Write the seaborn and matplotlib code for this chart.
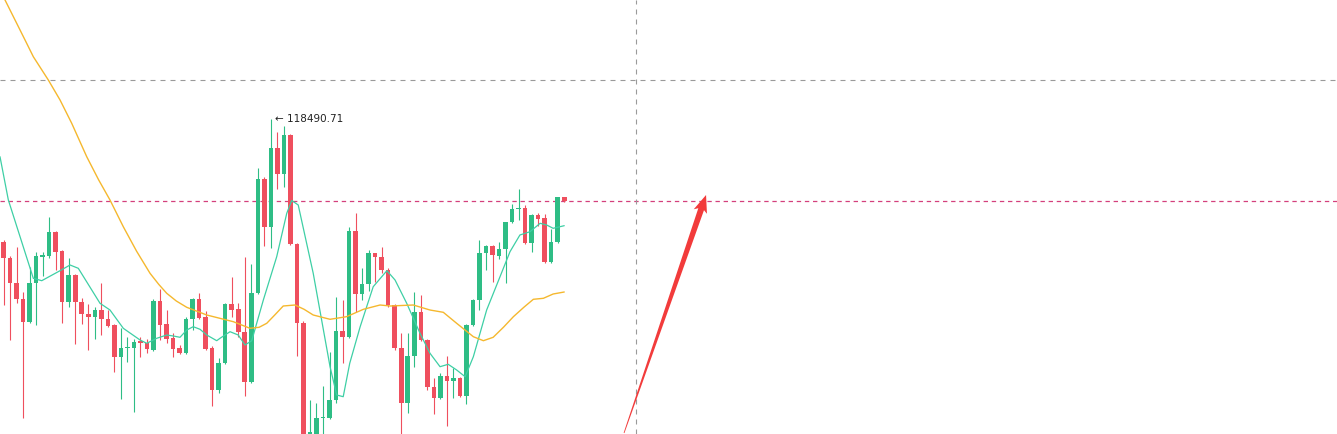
import numpy as np
import pandas as pd
import matplotlib
matplotlib.use("Agg")
import matplotlib.pyplot as plt
from matplotlib.patches import Polygon
import seaborn as sns

# ローソク足データ (価格)
opens = [117264, 117104, 116851, 116691, 116464, 116851, 117114, 117121, 117364, 117171,
         116664, 116931, 116658, 116541, 116508, 116581, 116491, 116431, 116114, 116198,
         116204, 116271, 116254, 116181, 116671, 116438, 116298, 116204, 116148, 116488,
         116688, 116514, 116204, 115781, 116048, 116641, 116588, 116364, 115864, 116754,
         117891, 117408, 118201, 117938, 118331, 117241, 116454, 115281, 115321, 115498,
         115498, 115681, 116371, 116314, 117371, 116738, 116838, 117148, 117108, 116981,
         116631, 116198, 115648, 116121, 116558, 116281, 115808, 115704, 115924, 115871,
         115898, 115721, 116431, 116681, 117148, 117224, 117124, 117188, 117458, 117588,
         117598, 117254, 117531, 117498, 117064, 117264, 117708]
highs = [117281, 117121, 117214, 116764, 117014, 117164, 117161, 117508, 117371, 117181,
         117098, 116941, 116704, 116638, 116611, 116854, 116581, 116441, 116404, 116314,
         116288, 116308, 116288, 116691, 116788, 116581, 116348, 116231, 116514, 116698,
         116754, 116571, 116221, 116098, 116651, 116914, 116648, 117114, 117041, 117998,
         117914, 118490.71, 118364, 118424, 118346, 117251, 116471, 115681, 115648, 115824,
         116158, 116714, 116681, 117414, 117548, 116998, 117181, 117156, 117214, 116998,
         116641, 116348, 116348, 116758, 116731, 116291, 115898, 115948, 116121, 116004,
         115911, 116441, 116688, 117281, 117231, 117231, 117264, 117466, 117641, 117788,
         117631, 117541, 117554, 117541, 117388, 117716, 117716]
lows = [116631, 116281, 116651, 115501, 116454, 116431, 116921, 117104, 116981, 116451,
        116614, 116238, 116438, 116181, 116291, 116331, 116414, 115964, 115691, 116058,
        115564, 116114, 116151, 116171, 116281, 116248, 116108, 116141, 116141, 116381,
        116496, 116181, 115621, 115748, 116041, 116514, 116314, 115721, 115856, 116746,
        117221, 117198, 117788, 117814, 117231, 116121, 115081, 115231, 115281, 115321,
        115491, 115648, 116054, 116306, 116564, 116681, 116774, 116864, 116948, 116614,
        116181, 115281, 115548, 116014, 116271, 115781, 115541, 115691, 115421, 115698,
        115711, 115641, 116421, 116581, 116981, 116864, 117088, 116848, 117451, 117481,
        117241, 117158, 117421, 117056, 117056, 117256, 117666]
closes = [117098, 116848, 116691, 116464, 116851, 117121, 117131, 117364, 117164, 116664,
          116931, 116664, 116538, 116508, 116581, 116488, 116424, 116114, 116204, 116214,
          116264, 116254, 116191, 116674, 116431, 116288, 116188, 116148, 116488, 116688,
          116504, 116188, 115781, 116048, 116641, 116581, 116364, 115864, 116754, 117891,
          117408, 118201, 117938, 118331, 117241, 116454, 115231, 115361, 115501, 115514,
          115681, 116371, 116314, 117371, 116738, 116838, 117148, 117108, 116981, 116631,
          116198, 115648, 116121, 116558, 116281, 115808, 115704, 115924, 115871, 115898,
          115721, 116431, 116681, 117148, 117224, 117131, 117188, 117458, 117588, 117598,
          117254, 117531, 117491, 117064, 117264, 117708, 117674]

# 移動平均線 (画像から読み取った点)
ma_fast_idx = [-0.54, 0.74, 4.57, 5.86, 8.67, 10.2, 11.47, 14.8, 16.33, 18.37, 20.94, 21.96,
               23.5, 25.03, 26.04, 27.07, 28.1, 29.1, 30.14, 31.17, 32.7, 33.2, 34.74, 36.0,
               37.04, 38.07, 39.85, 41.9, 43.44, 44.2, 45.2, 47.5, 50.08, 51.1, 52.1, 53.1,
               54.7, 56.7, 58.8, 60.05, 61.84, 63.88, 65.41, 66.95, 68.2, 69.5, 70.8, 72.06,
               74.1, 76.15, 77.68, 79.2, 80.75, 82.3, 83.3, 84.3, 86.0]
ma_fast = [118114, 117681, 116898, 116874, 116974, 117031, 116998, 116648, 116581, 116398,
           116281, 116248, 116298, 116331, 116321, 116308, 116381, 116414, 116388, 116331,
           116274, 116298, 116364, 116331, 116231, 116274, 116681, 117114, 117548, 117676,
           117631, 116948, 116014, 115731, 115714, 116048, 116414, 116814, 116974, 116881,
           116648, 116348, 116148, 116014, 116038, 115981, 115914, 116114, 116581, 116914,
           117164, 117331, 117364, 117448, 117431, 117398, 117424]
ma_slow_idx = [-0.54, 0.23, 2.02, 3.3, 4.57, 6.87, 8.67, 10.46, 12.76, 14.6, 16.33, 18.37,
               20.4, 22.47, 23.8, 25.03, 26.5, 28.1, 31.17, 35.25, 37.8, 39.2, 40.37, 41.6,
               42.9, 44.7, 46.1, 47.5, 50.08, 52.6, 55.2, 57.75, 59.3, 62.85, 65.4, 67.45,
               69.5, 72.06, 73.6, 75.1, 76.7, 78.2, 79.8, 81.26, 82.8, 84.3, 86.0]
ma_slow = [119781, 119681, 119448, 119281, 119114, 118881, 118681, 118448, 118114, 117881,
           117681, 117414, 117170, 116948, 116838, 116748, 116671, 116608, 116531, 116464,
           116398, 116408, 116448, 116531, 116621, 116631, 116588, 116531, 116488, 116514,
           116588, 116631, 116621, 116631, 116581, 116558, 116448, 116314, 116274, 116308,
           116410, 116514, 116608, 116688, 116698, 116741, 116761]

cross_x = 97.0          # 十字線 (縦)
cross_y = 118881        # 十字線 (横)
arrow_tail = (95.17, 115351)
arrow_tip = (107.75, 117731)

UP = "#2ebd85"
DOWN = "#ef4f5e"

sns.set_theme(style="white")
plt.rcParams['font.family'] = ['DejaVu Sans']

fig = plt.figure(figsize=(13.37, 4.34), dpi=100)
ax = fig.add_axes([0, 0, 1, 1])
ax.set_axis_off()

df = pd.DataFrame({'open': opens, 'high': highs, 'low': lows, 'close': closes})
df['idx'] = np.arange(len(df))
df['up'] = df['close'] >= df['open']
colors = np.where(df['up'], UP, DOWN)

# ヒゲ
ax.vlines(df['idx'], df['low'], df['high'], colors=colors, linewidth=0.8, zorder=2)
# 実体
body_lo = np.minimum(df['open'], df['close'])
body_h = np.maximum(np.abs(df['close'] - df['open']), 8)
ax.bar(df['idx'], body_h, bottom=body_lo, width=0.7, color=colors, linewidth=0, zorder=3)

# 移動平均
sns.lineplot(x=ma_fast_idx, y=ma_fast, ax=ax, color="#3ecfa5", linewidth=0.9, zorder=4)
sns.lineplot(x=ma_slow_idx, y=ma_slow, ax=ax, color="#f5b82e", linewidth=1.0, zorder=4)

# 現在価格ライン と 十字線
last_close = closes[-1]
ax.axhline(last_close, color="#d4407c", linewidth=0.9, dashes=(3.5, 3), zorder=1)
ax.axhline(cross_y, color="#9a9a9a", linewidth=0.8, dashes=(4.5, 4.5), zorder=1)
ax.axvline(cross_x, color="#9a9a9a", linewidth=0.8, dashes=(4.5, 4.5), zorder=1)

# 最高値ラベル
hi_i = int(np.argmax(highs))
ax.annotate(f"← {highs[hi_i]:.2f}", xy=(hi_i, highs[hi_i]), xytext=(3, 0),
            textcoords="offset points", fontsize=7.5, color="#222222", va="center", ha="left")

ax.set_xlim(-0.54, -0.54 + 1337 / 6.52)
ax.set_ylim(115341, 119681)

# 赤い矢印 (先細り)
fig.canvas.draw()
p0 = ax.transData.transform(arrow_tail)
p1 = ax.transData.transform(arrow_tip)
d = (p1 - p0) / np.linalg.norm(p1 - p0)
n = np.array([-d[1], d[0]])
base = p1 - d * 15
pts = [p0 + n * 0.4, base + n * 3.0, base - d * 2.5 + n * 7.0, p1,
       base - d * 2.5 - n * 7.0, base - n * 3.0, p0 - n * 0.4]
ax.add_patch(Polygon(pts, closed=True, transform=None, color="#f23b3b", linewidth=0, zorder=6))

plt.savefig("out.png", dpi=100)
